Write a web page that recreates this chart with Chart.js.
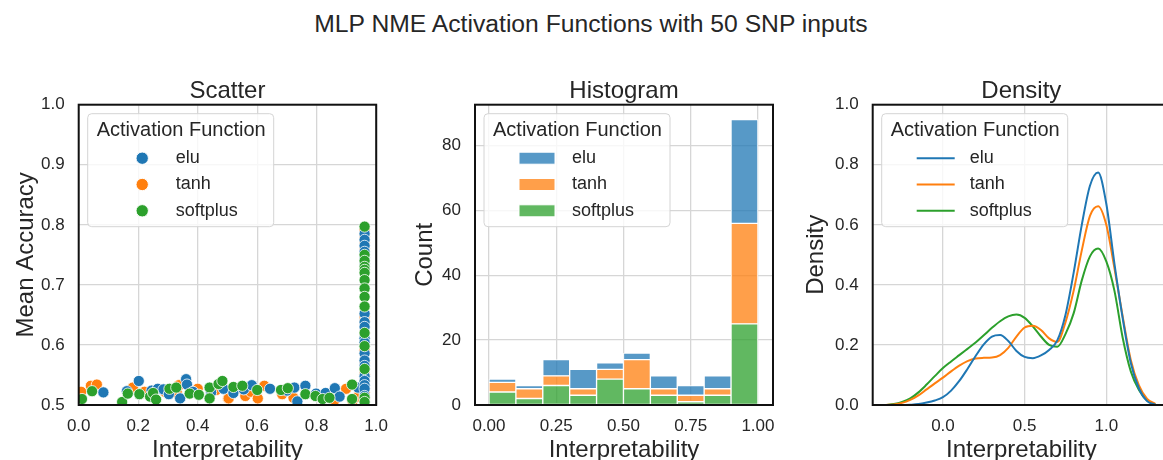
<!DOCTYPE html>
<html lang="en">
<head>
    <meta charset="UTF-8">
    <title>MLP NME Activation Functions</title>
    <script src="https://cdn.jsdelivr.net/npm/chart.js"></script>
    <style>
        body {
            margin: 0;
            width: 1163px;
            height: 460px;
            overflow: hidden;
            background: #ffffff;
            position: relative;
            font-family: "Liberation Sans", Arial, sans-serif;
        }
        .suptitle {
            position: absolute;
            left: 291px;
            width: 600px;
            top: 11px;
            text-align: center;
            font-size: 24.7px;
            line-height: 25px;
            color: #262626;
        }
        .panel {
            position: absolute;
            top: 60px;
            height: 410px;
        }
    </style>
</head>
<body>
    <div class="suptitle">MLP NME Activation Functions with 50 SNP inputs</div>
    <div class="panel" style="left:0px;width:399px"><canvas id="scatterChart"></canvas></div>
    <div class="panel" style="left:400px;width:393px"><canvas id="histChart"></canvas></div>
    <div class="panel" style="left:795px;width:395px"><canvas id="densityChart"></canvas></div>

    <script>
        const seriesNames = ['elu', 'tanh', 'softplus'];
        const seriesColors = ['31,119,180', '255,127,14', '44,160,44'];

        // scatter: [interpretability, mean accuracy]
        const scatterElu = [
            [0.083, 0.521], [0.162, 0.523], [0.202, 0.540], [0.245, 0.524], [0.266, 0.527],
            [0.285, 0.526], [0.303, 0.518], [0.341, 0.511], [0.361, 0.543], [0.364, 0.534],
            [0.384, 0.522], [0.445, 0.521], [0.487, 0.527], [0.520, 0.520], [0.555, 0.526],
            [0.582, 0.533], [0.643, 0.527], [0.700, 0.524], [0.725, 0.529], [0.735, 0.506],
            [0.762, 0.532], [0.798, 0.519], [0.830, 0.520], [0.861, 0.528], [0.877, 0.514],
            [0.939, 0.529],
            [0.961, 0.785], [0.961, 0.775], [0.961, 0.765], [0.961, 0.755], [0.961, 0.745],
            [0.961, 0.735], [0.961, 0.652], [0.961, 0.638], [0.961, 0.630], [0.961, 0.611],
            [0.961, 0.604], [0.961, 0.586], [0.961, 0.574], [0.961, 0.565], [0.961, 0.548],
            [0.961, 0.540], [0.961, 0.533], [0.961, 0.527], [0.961, 0.515]
        ];
        const scatterTanh = [
            [0.008, 0.522], [0.041, 0.532], [0.061, 0.534], [0.182, 0.529], [0.221, 0.522],
            [0.290, 0.522], [0.330, 0.520], [0.337, 0.533], [0.400, 0.527], [0.462, 0.525],
            [0.502, 0.511], [0.504, 0.511], [0.542, 0.528], [0.560, 0.515], [0.579, 0.522],
            [0.602, 0.511], [0.624, 0.532], [0.684, 0.518], [0.722, 0.512], [0.860, 0.508],
            [0.899, 0.527], [0.920, 0.507], [0.938, 0.514],
            [0.961, 0.792], [0.961, 0.780], [0.961, 0.770], [0.961, 0.760], [0.961, 0.735],
            [0.961, 0.647], [0.961, 0.640], [0.961, 0.620], [0.961, 0.591], [0.961, 0.570],
            [0.961, 0.559], [0.961, 0.551], [0.961, 0.540], [0.961, 0.521], [0.961, 0.510]
        ];
        const scatterSoftplus = [
            [0.011, 0.510], [0.045, 0.523], [0.146, 0.505], [0.165, 0.519], [0.204, 0.518],
            [0.240, 0.514], [0.250, 0.520], [0.260, 0.509], [0.305, 0.527], [0.328, 0.529],
            [0.373, 0.519], [0.404, 0.517], [0.440, 0.529], [0.440, 0.511], [0.470, 0.535],
            [0.483, 0.540], [0.520, 0.530], [0.550, 0.532], [0.600, 0.525], [0.680, 0.525],
            [0.703, 0.528], [0.762, 0.518], [0.796, 0.515], [0.820, 0.510], [0.843, 0.512],
            [0.919, 0.534], [0.919, 0.510],
            [0.961, 0.797], [0.961, 0.750], [0.961, 0.740], [0.961, 0.730], [0.961, 0.725],
            [0.961, 0.720], [0.961, 0.708], [0.961, 0.694], [0.961, 0.680], [0.961, 0.664],
            [0.961, 0.620], [0.961, 0.598], [0.961, 0.560], [0.961, 0.512], [0.961, 0.505]
        ];

        // histogram: bin centres and stacked counts per activation
        const histBinCentres = [0.05, 0.15, 0.25, 0.35, 0.45, 0.55, 0.65, 0.75, 0.85, 0.95];
        const histElu = [1, 1, 5, 6, 2, 2, 4, 3, 4, 32];
        const histTanh = [3, 3, 3, 2, 3, 9, 2, 2, 2, 31];
        const histSoftplus = [4, 2, 6, 3, 8, 5, 3, 1, 3, 25];

        // kde curves sampled on a common grid
        const densX = [-0.35, -0.30, -0.25, -0.20, -0.15, -0.10, -0.05, 0.00, 0.05, 0.10,
                       0.15, 0.20, 0.25, 0.30, 0.35, 0.40, 0.45, 0.50, 0.55, 0.60,
                       0.65, 0.70, 0.75, 0.80, 0.85, 0.90, 0.95, 1.00, 1.05, 1.10,
                       1.15, 1.20, 1.25, 1.30];
        const densElu = [0.000, 0.000, 0.000, 0.001, 0.003, 0.008, 0.015, 0.026, 0.048, 0.080,
                         0.120, 0.163, 0.202, 0.228, 0.233, 0.213, 0.180, 0.160, 0.156, 0.165,
                         0.183, 0.215, 0.300, 0.440, 0.600, 0.730, 0.774, 0.670, 0.470, 0.290,
                         0.140, 0.055, 0.013, 0.001];
        const densTanh = [0.000, 0.002, 0.007, 0.017, 0.032, 0.052, 0.072, 0.091, 0.112, 0.131,
                          0.146, 0.155, 0.157, 0.158, 0.166, 0.190, 0.228, 0.258, 0.264, 0.250,
                          0.222, 0.210, 0.275, 0.380, 0.515, 0.630, 0.662, 0.600, 0.455, 0.296,
                          0.150, 0.065, 0.020, 0.004];
        const densSoftplus = [0.000, 0.003, 0.010, 0.022, 0.042, 0.068, 0.096, 0.123, 0.145, 0.166,
                              0.187, 0.208, 0.232, 0.257, 0.279, 0.295, 0.301, 0.290, 0.262, 0.228,
                              0.200, 0.194, 0.236, 0.305, 0.415, 0.495, 0.521, 0.478, 0.380, 0.225,
                              0.112, 0.050, 0.015, 0.002];

        const scatterXTicks = [0, 0.2, 0.4, 0.6, 0.8, 1.0];
        const scatterYTicks = [0.5, 0.6, 0.7, 0.8, 0.9, 1.0];
        const histXTicks = [0, 0.25, 0.5, 0.75, 1.0];
        const histYTicks = [0, 20, 40, 60, 80];
        const densXTicks = [0, 0.5, 1.0];
        const densYTicks = [0, 0.2, 0.4, 0.6, 0.8, 1.0];

        const FONT = '"Liberation Sans", Arial, sans-serif';
        const TEXT = '#262626';
        const GRID = '#d6d6d6';
        Chart.defaults.font.family = FONT;
        Chart.defaults.color = TEXT;

        const rgba = (c, a) => `rgba(${c},${a})`;

        // axes title centred on the plot area, black box round it,
        // and a seaborn-like legend in the upper left
        const frameAndLegend = {
            id: 'frameAndLegend',
            afterDatasetsDraw(chart) {
                const {ctx, chartArea: a} = chart;
                ctx.save();
                ctx.strokeStyle = '#111111';
                ctx.lineWidth = 2;
                ctx.strokeRect(a.left, a.top, a.right - a.left, a.bottom - a.top);
                ctx.restore();
            },
            afterDraw(chart, args, opts) {
                const {ctx, chartArea: a} = chart;
                ctx.save();
                ctx.fillStyle = TEXT;
                ctx.font = '24px ' + FONT;
                ctx.textAlign = 'center';
                ctx.textBaseline = 'alphabetic';
                ctx.fillText(opts.title, (a.left + a.right) / 2, a.top - 7);

                const bx = a.left + 9, by = a.top + 9, bw = 186, bh = 113;
                ctx.beginPath();
                ctx.roundRect(bx, by, bw, bh, 4);
                ctx.fillStyle = 'rgba(255,255,255,0.8)';
                ctx.fill();
                ctx.strokeStyle = '#d4d4d4';
                ctx.lineWidth = 1;
                ctx.stroke();

                ctx.textAlign = 'left';
                ctx.fillStyle = TEXT;
                ctx.textBaseline = 'middle';
                ctx.font = '20px ' + FONT;
                ctx.fillText('Activation Function', bx + 9, by + 17);

                seriesNames.forEach((name, i) => {
                    const y = by + 44.5 + i * 26.3;
                    const c = seriesColors[i];
                    if (opts.kind === 'marker') {
                        ctx.beginPath();
                        ctx.arc(bx + 54.5, y, 6.2, 0, Math.PI * 2);
                        ctx.fillStyle = rgba(c, 1);
                        ctx.fill();
                        ctx.strokeStyle = '#ffffff';
                        ctx.lineWidth = 1;
                        ctx.stroke();
                    } else if (opts.kind === 'patch') {
                        ctx.fillStyle = rgba(c, 0.75);
                        ctx.fillRect(bx + 35, y - 6, 36, 12);
                        ctx.strokeStyle = '#ffffff';
                        ctx.lineWidth = 1;
                        ctx.strokeRect(bx + 35, y - 6, 36, 12);
                    } else {
                        ctx.beginPath();
                        ctx.moveTo(bx + 35, y);
                        ctx.lineTo(bx + 73, y);
                        ctx.strokeStyle = rgba(c, 1);
                        ctx.lineWidth = 2;
                        ctx.stroke();
                    }
                    ctx.fillStyle = TEXT;
                    ctx.font = '18px ' + FONT;
                    ctx.fillText(name, bx + 88, y);
                });
                ctx.restore();
            }
        };

        function xAxis(min, max, ticks, digits) {
            return {
                type: 'linear', min, max, offset: false,
                afterBuildTicks: s => { s.ticks = ticks.map(v => ({value: v})); },
                afterFit: s => { s.height = 65; },
                ticks: {font: {size: 17}, color: TEXT, padding: 11, maxRotation: 0,
                        callback: v => v.toFixed(digits)},
                grid: {color: GRID, lineWidth: 1.3, drawTicks: false, offset: false},
                border: {display: false},
                title: {display: true, text: 'Interpretability', font: {size: 24}, color: TEXT,
                        padding: {top: 0, bottom: 5.6}}
            };
        }

        function yAxis(min, max, ticks, digits, label, width, titlePad) {
            return {
                type: 'linear', min, max,
                afterBuildTicks: s => { s.ticks = ticks.map(v => ({value: v})); },
                afterFit: s => { s.width = width; },
                ticks: {font: {size: 17}, color: TEXT, padding: 14,
                        callback: v => v.toFixed(digits)},
                grid: {color: GRID, lineWidth: 1.3, drawTicks: false},
                border: {display: false},
                title: {display: true, text: label, font: {size: 24}, color: TEXT,
                        padding: {top: titlePad, bottom: 0}}
            };
        }

        const layout = {padding: {left: 0, right: 20, top: 44.7, bottom: 0}};

        // Scatter (softplus drawn on top, then elu, tanh underneath)
        const scatterSets = [scatterElu, scatterTanh, scatterSoftplus];
        const scatterOrder = [1, 2, 0];
        new Chart(document.getElementById('scatterChart'), {
            type: 'scatter',
            data: {
                datasets: scatterSets.map((pts, i) => ({
                    label: seriesNames[i],
                    order: scatterOrder[i],
                    data: pts.map(p => ({x: p[0], y: p[1]})),
                    backgroundColor: rgba(seriesColors[i], 1),
                    borderColor: '#ffffff',
                    borderWidth: 0.8,
                    pointRadius: 5.6
                }))
            },
            options: {
                responsive: true, maintainAspectRatio: false, animation: false,
                layout,
                scales: {
                    x: xAxis(0, 1, scatterXTicks, 1),
                    y: yAxis(0.5, 1, scatterYTicks, 1, 'Mean Accuracy', 78.7, 11.6)
                },
                plugins: {
                    legend: {display: false},
                    tooltip: {enabled: false},
                    frameAndLegend: {kind: 'marker', title: 'Scatter'}
                }
            },
            plugins: [frameAndLegend]
        });

        // Histogram, stacked with softplus at the bottom
        const histCounts = [histElu, histTanh, histSoftplus];
        new Chart(document.getElementById('histChart'), {
            type: 'bar',
            data: {
                datasets: [2, 1, 0].map(i => ({
                    label: seriesNames[i],
                    data: histBinCentres.map((x, k) => ({x, y: histCounts[i][k]})),
                    backgroundColor: rgba(seriesColors[i], 0.75),
                    borderColor: '#ffffff',
                    borderWidth: 1,
                    borderSkipped: false,
                    barPercentage: 1,
                    categoryPercentage: 1
                }))
            },
            options: {
                responsive: true, maintainAspectRatio: false, animation: false,
                layout,
                scales: {
                    x: Object.assign(xAxis(-0.052, 1.056, histXTicks, 2), {stacked: true}),
                    y: Object.assign(yAxis(0, 92.6, histYTicks, 0, 'Count', 75, 10.6), {stacked: true})
                },
                plugins: {
                    legend: {display: false},
                    tooltip: {enabled: false},
                    frameAndLegend: {kind: 'patch', title: 'Histogram'}
                }
            },
            plugins: [frameAndLegend]
        });

        // Density
        const densSets = [densElu, densTanh, densSoftplus];
        new Chart(document.getElementById('densityChart'), {
            type: 'scatter',
            data: {
                datasets: densSets.map((ys, i) => ({
                    label: seriesNames[i],
                    data: densX.map((x, k) => ({x, y: ys[k]})),
                    showLine: true,
                    borderColor: rgba(seriesColors[i], 1),
                    borderWidth: 2,
                    pointRadius: 0,
                    cubicInterpolationMode: 'monotone'
                }))
            },
            options: {
                responsive: true, maintainAspectRatio: false, animation: false,
                layout,
                scales: {
                    x: xAxis(-0.43, 1.39, densXTicks, 1),
                    y: yAxis(0, 1, densYTicks, 1, 'Density', 77.7, 6.6)
                },
                plugins: {
                    legend: {display: false},
                    tooltip: {enabled: false},
                    frameAndLegend: {kind: 'line', title: 'Density'}
                }
            },
            plugins: [frameAndLegend]
        });
    </script>
</body>
</html>
